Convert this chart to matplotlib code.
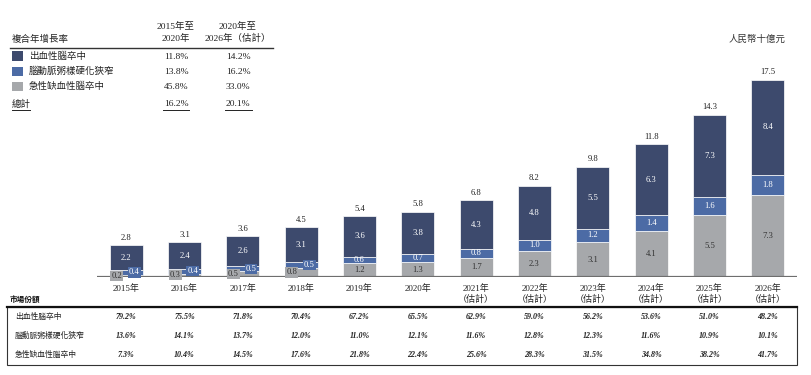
import matplotlib
matplotlib.use("Agg")
import matplotlib.pyplot as plt
from matplotlib.patches import Rectangle
from matplotlib.lines import Line2D

plt.rcParams['font.family'] = ['Liberation Serif', 'Noto Sans CJK TC']

years = ["2015年", "2016年", "2017年", "2018年", "2019年", "2020年",
         "2021年\n（估計）", "2022年\n（估計）", "2023年\n（估計）", "2024年\n（估計）",
         "2025年\n（估計）", "2026年\n（估計）"]
ischemic = [0.2, 0.3, 0.5, 0.8, 1.2, 1.3, 1.7, 2.3, 3.1, 4.1, 5.5, 7.3]
stenosis = [0.4, 0.4, 0.5, 0.5, 0.6, 0.7, 0.8, 1.0, 1.2, 1.4, 1.6, 1.8]
hemorrhagic = [2.2, 2.4, 2.6, 3.1, 3.6, 3.8, 4.3, 4.8, 5.5, 6.3, 7.3, 8.4]
totals = [2.8, 3.1, 3.6, 4.5, 5.4, 5.8, 6.8, 8.2, 9.8, 11.8, 14.3, 17.5]

series_names = ["出血性腦卒中", "腦動脈粥樣硬化狹窄", "急性缺血性腦卒中"]
cagr_1520 = ["11.8%", "13.8%", "45.8%"]
cagr_2026 = ["14.2%", "16.2%", "33.0%"]
cagr_total = ["16.2%", "20.1%"]

share_hem = ["79.2%", "75.5%", "71.8%", "70.4%", "67.2%", "65.5%", "62.9%", "59.0%", "56.2%", "53.6%", "51.0%", "48.2%"]
share_ste = ["13.6%", "14.1%", "13.7%", "12.0%", "11.0%", "12.1%", "11.6%", "12.8%", "12.3%", "11.6%", "10.9%", "10.1%"]
share_isc = ["7.3%", "10.4%", "14.5%", "17.6%", "21.8%", "22.4%", "25.6%", "28.3%", "31.5%", "34.8%", "38.2%", "41.7%"]

NAVY = "#3D4A6D"
BLUE = "#4C6BA5"
GRAY = "#A6A8AB"
colors = [NAVY, BLUE, GRAY]

W, H = 812, 375
fig = plt.figure(figsize=(W / 100, H / 100), dpi=100)

def fx(x):
    return x / W

def fy(y):
    return 1 - y / H

# main axes
ax_l, ax_r, ax_base, ax_top = 97, 797, 277, 60
ax = fig.add_axes([fx(ax_l), fy(ax_base), (ax_r - ax_l) / W, (ax_base - ax_top) / H])
n = len(years)
xs = list(range(n))
bw = 0.566
ax.set_xlim(-0.5, n - 0.5)
ax.set_ylim(0, (ax_base - ax_top) / 11.26)
for s in ax.spines.values():
    s.set_visible(False)
ax.set_xticks([])
ax.set_yticks([])
ax.patch.set_alpha(0)

bottoms2 = [a + b for a, b in zip(ischemic, stenosis)]
ax.bar(xs, ischemic, bw, color=GRAY, edgecolor="white", linewidth=0.5, zorder=2)
ax.bar(xs, stenosis, bw, bottom=ischemic, color=BLUE, edgecolor="white", linewidth=0.5, zorder=2)
ax.bar(xs, hemorrhagic, bw, bottom=bottoms2, color=NAVY, edgecolor="white", linewidth=0.5, zorder=2)
ax.axhline(0, color="#6E6E6E", lw=1.6, zorder=3)

fs_in = 6.2
for i in xs:
    top = ischemic[i] + stenosis[i] + hemorrhagic[i]
    ax.annotate(f"{totals[i]:.1f}", (i, top), xytext=(0, 2.5), textcoords="offset points",
                ha="center", va="bottom", fontsize=fs_in, color="#222222")
    ax.text(i, bottoms2[i] + hemorrhagic[i] / 2, f"{hemorrhagic[i]:.1f}", ha="center", va="center",
            fontsize=fs_in, color="white", zorder=4)
    if i < 4:
        ax.text(i - 0.16, ischemic[i] / 2, f"{ischemic[i]:.1f}", ha="center", va="center",
                fontsize=fs_in, color="#333333", zorder=5,
                bbox=dict(boxstyle="square,pad=0.12", fc=GRAY, ec="none"))
        ax.text(i + 0.14, ischemic[i] + stenosis[i] / 2, f"{stenosis[i]:.1f}", ha="center", va="center",
                fontsize=fs_in, color="white", zorder=5,
                bbox=dict(boxstyle="square,pad=0.12", fc=BLUE, ec="none"))
    else:
        ax.text(i, ischemic[i] / 2, f"{ischemic[i]:.1f}", ha="center", va="center",
                fontsize=fs_in, color="#333333", zorder=4)
        ax.text(i, ischemic[i] + stenosis[i] / 2, f"{stenosis[i]:.1f}", ha="center", va="center",
                fontsize=fs_in, color="white", zorder=4)

# bar centers in pixels
def cx(i):
    return ax_l + (i + 0.5) * (ax_r - ax_l) / n

for i in xs:
    fig.text(fx(cx(i)), fy(284.5), years[i], ha="center", va="top", fontsize=6.5,
             color="#222222", linespacing=1.15)

# market share table
fig.text(fx(10), fy(300), "市場份額", ha="left", va="center", fontsize=5.5,
         fontweight="bold", style="italic", color="#111111")
box_t, box_b, box_l, box_r = 307, 365, 7, 797
fig.add_artist(Rectangle((fx(box_l), fy(box_b)), (box_r - box_l) / W, (box_b - box_t) / H,
                         transform=fig.transFigure, fill=False, ec="#333333", lw=0.8))
fig.add_artist(Line2D([fx(box_l), fx(box_r)], [fy(box_t), fy(box_t)], transform=fig.transFigure,
                      color="#111111", lw=1.6))
row_y = [316.7, 336, 355.3]
for r, (name, vals) in enumerate(zip(series_names, [share_hem, share_ste, share_isc])):
    fig.text(fx(15), fy(row_y[r]), name, ha="left", va="center", fontsize=5.6, color="#222222")
    for i in xs:
        fig.text(fx(cx(i)), fy(row_y[r]), vals[i], ha="center", va="center", fontsize=5.8,
                 fontweight="bold", style="italic", color="#222222")

# CAGR table (top-left)
fig.text(fx(12), fy(39), "複合年增長率", ha="left", va="center", fontsize=6.8, color="#222222")
fig.text(fx(176), fy(32.5), "2015年至\n2020年", ha="center", va="center", fontsize=6.8,
         color="#222222", linespacing=1.35)
fig.text(fx(238), fy(32.5), "2020年至\n2026年（估計）", ha="center", va="center", fontsize=6.8,
         color="#222222", linespacing=1.35)
fig.add_artist(Line2D([fx(10), fx(273)], [fy(47.5), fy(47.5)], transform=fig.transFigure,
                      color="#333333", lw=1.0))
leg_y = [56, 71, 86]
for r in range(3):
    fig.add_artist(Rectangle((fx(12), fy(leg_y[r] + 4.5)), 11 / W, 9 / H, transform=fig.transFigure,
                             fc=colors[r], ec="none"))
    fig.text(fx(29), fy(leg_y[r]), series_names[r], ha="left", va="center", fontsize=6.8, color="#222222")
    fig.text(fx(176), fy(leg_y[r] + 1), cagr_1520[r], ha="center", va="center", fontsize=6.8, color="#222222")
    fig.text(fx(238), fy(leg_y[r] + 1), cagr_2026[r], ha="center", va="center", fontsize=6.8, color="#222222")
fig.text(fx(12), fy(104), "總計", ha="left", va="center", fontsize=6.8, color="#222222")
fig.text(fx(176), fy(104.5), cagr_total[0], ha="center", va="center", fontsize=6.8, color="#222222")
fig.text(fx(238), fy(104.5), cagr_total[1], ha="center", va="center", fontsize=6.8, color="#222222")
for x0, x1 in [(12, 30), (163, 189), (225, 252)]:
    fig.add_artist(Line2D([fx(x0), fx(x1)], [fy(110), fy(110)], transform=fig.transFigure,
                          color="#222222", lw=0.7))

fig.text(fx(786), fy(39), "人民幣十億元", ha="right", va="center", fontsize=6.8,
         style="italic", color="#333333")

fig.savefig("out.png", dpi=100)
